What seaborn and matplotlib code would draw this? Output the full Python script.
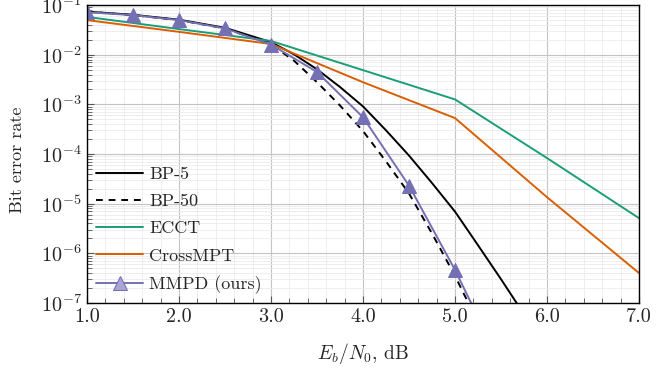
import numpy as np
import pandas as pd
import matplotlib
matplotlib.use("Agg")
import matplotlib.pyplot as plt
import seaborn as sns
from matplotlib.ticker import LogLocator, MultipleLocator, FormatStrFormatter, NullFormatter

# Eb/N0 (dB) and BER per decoder
snr_bp = [1.0, 1.5, 2.0, 2.5, 3.0, 3.25, 3.5, 3.75, 4.0, 4.25, 4.5, 4.75, 5.0, 5.25, 5.5, 5.75, 6.0]
ber_bp5 = [7.4e-2, 6.4e-2, 5.1e-2, 3.5e-2, 1.8e-2, 1.02e-2, 5.1e-3, 2.24e-3, 9.1e-4,
           3.0e-4, 9.3e-5, 2.6e-5, 6.9e-6, 1.45e-6, 3.0e-7, 5.9e-8, 1.2e-8]
ber_bp50 = [7.4e-2, 6.3e-2, 5.0e-2, 3.4e-2, 1.62e-2, 7.6e-3, 2.8e-3, 9.5e-4, 2.9e-4,
            7.1e-5, 1.6e-5, 2.5e-6, 3.5e-7, 4.0e-8, 4e-9, 4e-10, 4e-11]

snr_nn = [1.0, 2.0, 3.0, 4.0, 5.0, 6.0, 7.0]
ber_ecct = [5.8e-2, 3.3e-2, 1.9e-2, 4.9e-3, 1.26e-3, 8.3e-5, 5.1e-6]
ber_crossmpt = [5.0e-2, 2.9e-2, 1.65e-2, 2.8e-3, 5.3e-4, 1.35e-5, 4.0e-7]

snr_mmpd = [1.0, 1.5, 2.0, 2.5, 3.0, 3.5, 4.0, 4.5, 5.0, 5.5]
ber_mmpd = [7.2e-2, 6.3e-2, 5.0e-2, 3.4e-2, 1.6e-2, 4.5e-3, 5.5e-4, 2.3e-5, 4.6e-7, 5.8e-9]

sns.set_style("white")
plt.rcParams["font.family"] = "cmr10"
plt.rcParams["mathtext.fontset"] = "cm"
plt.rcParams["axes.unicode_minus"] = False
plt.rcParams["axes.formatter.use_mathtext"] = True

fig, ax = plt.subplots(figsize=(6.72, 3.69), dpi=100)
fig.subplots_adjust(left=0.1295, right=0.951, top=0.986, bottom=0.179)

lw = 1.4
sns.lineplot(x=snr_bp, y=ber_bp5, ax=ax, color="black", lw=lw, label="BP-5")
sns.lineplot(x=snr_bp, y=ber_bp50, ax=ax, color="black", lw=lw, label="BP-50")
ax.lines[-1].set_linestyle((0, (3.5, 3)))
sns.lineplot(x=snr_nn, y=ber_ecct, ax=ax, color="#1b9e77", lw=lw, label="ECCT")
sns.lineplot(x=snr_nn, y=ber_crossmpt, ax=ax, color="#d95f02", lw=lw, label="CrossMPT")
sns.lineplot(x=snr_mmpd, y=ber_mmpd, ax=ax, color="#7570b3", lw=lw, label="MMPD (ours)",
             marker="^", markersize=10, markerfacecolor="#7570b3", markeredgecolor="#7570b3")

ax.set_yscale("log")
ax.set_xlim(1.0, 7.0)
ax.set_ylim(1e-7, 1e-1)

ax.xaxis.set_major_locator(MultipleLocator(1.0))
ax.xaxis.set_minor_locator(MultipleLocator(0.2))
ax.xaxis.set_major_formatter(FormatStrFormatter("%.1f"))
ax.yaxis.set_major_locator(LogLocator(base=10, numticks=20))
ax.yaxis.set_minor_locator(LogLocator(base=10, subs=np.arange(2, 10), numticks=20))
ax.yaxis.set_minor_formatter(NullFormatter())

ax.grid(which="major", color="#c4c4c4", lw=0.8)
ax.grid(which="minor", color="#ebebeb", lw=0.6)
ax.set_axisbelow(True)

ax.tick_params(which="both", direction="in", left=True, bottom=True, top=False, right=False,
               labelsize=14.5, color="#555555")
ax.tick_params(which="major", length=5, width=0.8, pad=4)
ax.tick_params(which="minor", length=3.5, width=0.6)
for s in ax.spines.values():
    s.set_color("black")
    s.set_linewidth(1.0)

ax.set_xlabel(r"$E_b/N_0$, dB", fontsize=14, va="top")
ax.xaxis.set_label_coords(0.5, -0.128)
ax.set_ylabel("Bit error rate", fontsize=13)
ax.yaxis.set_label_coords(-0.113, 0.48)

leg = ax.legend(loc="lower left", frameon=False, fontsize=13, handlelength=2.6,
                labelspacing=0.64, borderaxespad=0.1, handletextpad=0.35)
leg.legend_handles[-1].set_markerfacecolor("#a9a6d3")

fig.savefig("out.png", dpi=100)
